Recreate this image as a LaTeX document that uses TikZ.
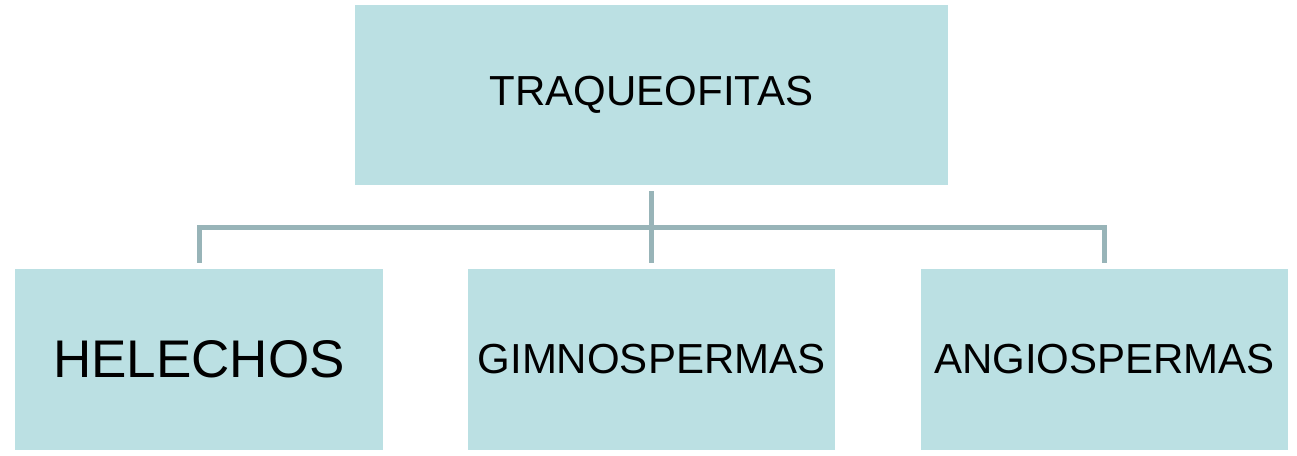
\documentclass[tikz,border=0pt]{standalone}
\usepackage{fontspec}
\setmainfont{Liberation Sans}
\usepackage{tikz}
\usetikzlibrary{positioning,calc}
\definecolor{TaxBox}{HTML}{BBE0E3}
\definecolor{TaxLine}{HTML}{98B4B8}

\tikzset{
  taxbox/.style={fill=TaxBox,draw=none,inner sep=0pt,text=black,
    font=\fontsize{42}{50}\selectfont},
  conn/.style={draw=TaxLine,line width=5pt,line join=miter}
}

\begin{document}
\begin{tikzpicture}[x=1pt,y=-1pt]
  \useasboundingbox (0,0) rectangle (1297,455);
  % top level
  \node[taxbox,minimum width=593pt,minimum height=180pt] (traq) at (651.5,95) {TRAQUEOFITAS};
  % groups
  \node[taxbox,minimum width=368pt,minimum height=181pt,
        font=\fontsize{53}{60}\selectfont] (hel) at (199,359.5) {HELECHOS};
  \node[taxbox,minimum width=367pt,minimum height=181pt] (gim) at (651.5,359.5) {GIMNOSPERMAS};
  \node[taxbox,minimum width=367pt,minimum height=181pt] (ang) at (1104.5,359.5) {ANGIOSPERMAS};
  \coordinate (bus) at (651.5,227.5);
  % connectors
  \foreach \kid in {hel,gim,ang}
    \draw[conn] ([yshift=-6pt]traq.south) -- (traq.south |- bus) -| ([yshift=6pt]\kid.north);
\end{tikzpicture}
\end{document}
